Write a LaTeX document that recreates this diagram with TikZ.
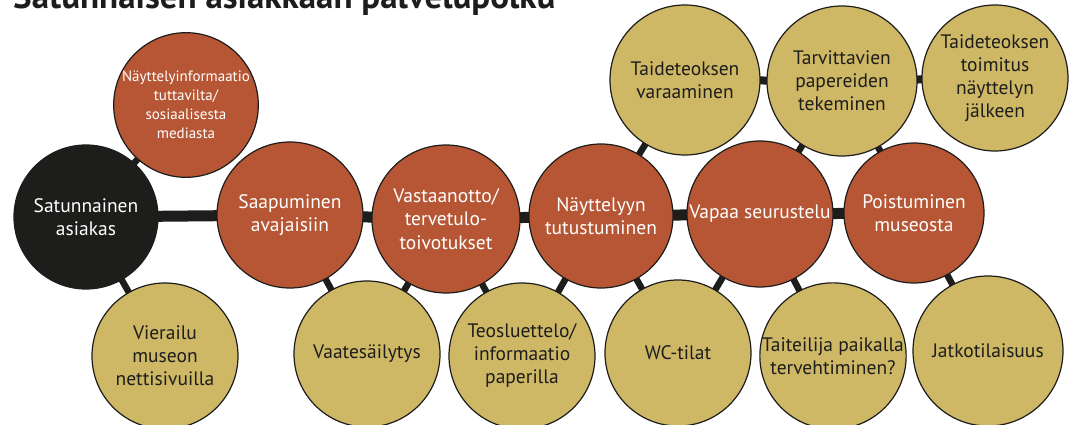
\documentclass[tikz,border=0pt]{standalone}
\usepackage{fontspec}
\setmainfont{PT Sans}
\usetikzlibrary{backgrounds}
\definecolor{rust}{HTML}{B65634}
\definecolor{sand}{HTML}{CEB866}
\definecolor{ink}{HTML}{1D1D1B}
\begin{document}
\begin{tikzpicture}[x=1pt,y=-1pt,
  bubble/.style={circle, draw=ink, line width=1.2pt, inner sep=0pt, align=center},
  start/.style={bubble, fill=ink, text=white, font=\fontsize{19.5}{23.5}\selectfont},
  stage/.style={bubble, fill=rust, text=white, font=\fontsize{19.5}{23.5}\selectfont},
  extra/.style={bubble, fill=sand, text=ink, font=\fontsize{19.5}{23}\selectfont},
  spine/.style={draw=ink, line width=11pt},
  branch/.style={draw=ink, line width=8pt},
  link/.style={draw=ink, line width=6.5pt}]
\useasboundingbox (0,0) rectangle (1072,425);

% title (partly above the page edge)
\node[anchor=base west, inner sep=0pt, text=ink,
      font=\fontsize{35}{41}\selectfont\bfseries] (title) at (13,9)
  {Satunnaisen asiakkaan palvelupolku};

% customer and main stages
\node[start, minimum size=144pt] (cust) at (86,217) {Satunnainen\\asiakas};
\node[stage, minimum size=136pt, font=\fontsize{15}{19}\selectfont] (info) at (186,105)
  {Näyttelyinformaatio\\tuttavilta/\\sosiaalisesta\\mediasta};
\node[stage, minimum size=146pt] (saap) at (290,215) {Saapuminen\\avajaisiin};
\node[stage, minimum size=148pt] (vast) at (446,219) {Vastaanotto/\\tervetulo-\\toivotukset};
\node[stage, minimum size=144pt] (nayt) at (601,216) {Näyttelyyn\\tutustuminen};
\node[stage, minimum size=146pt] (vapa) at (760,214) {Vapaa seurustelu};
\node[stage, minimum size=140pt] (pois) at (914,213) {Poistuminen\\museosta};

% side services above
\node[extra, minimum size=150pt] (varaus) at (685,80) {Taideteoksen\\varaaminen};
\node[extra, minimum size=150pt] (paperit) at (842,81) {Tarvittavien\\papereiden\\tekeminen};
\node[extra, minimum size=146pt] (toimitus) at (995,78) {Taideteoksen\\toimitus\\näyttelyn\\jälkeen};

% side services below
\node[extra, minimum size=146pt] (netti) at (165,356) {Vierailu\\museon\\nettisivuilla};
\node[extra, minimum size=146pt] (vaate) at (367,354) {Vaatesäilytys};
\node[extra, minimum size=146pt] (teos) at (522,356) {Teosluettelo/\\informaatio\\paperilla};
\node[extra, minimum size=146pt] (wc) at (678,353) {WC-tilat};
\node[extra, minimum size=144pt] (taiteilija) at (833,356) {Taiteilija paikalla\\tervehtiminen?};
\node[extra, minimum size=150pt] (jatko) at (988,351) {Jatkotilaisuus};

\begin{pgfonlayer}{background}
  \fill[white] (0,0) rectangle (1072,425);
  % main path
  \draw[spine] (cust.center) -- (saap.center);
  \draw[spine] (saap.center) -- (vast.center);
  \draw[spine] (vast.center) -- (nayt.center);
  \draw[spine] (nayt.center) -- (vapa.center);
  \draw[spine] (vapa.center) -- (pois.center);
  % upper chain
  \draw[branch] (varaus.center) -- (paperit.center);
  \draw[branch] (paperit.center) -- (toimitus.center);
  % side links
  \draw[link] (cust.center) -- (info.center);
  \draw[link] (cust.center) -- (netti.center);
  \draw[link] (saap.center) -- (vaate.center);
  \draw[link] (vast.center) -- (vaate.center);
  \draw[link] (vast.center) -- (teos.center);
  \draw[link] (nayt.center) -- (teos.center);
  \draw[link] (nayt.center) -- (wc.center);
  \draw[link] (nayt.center) -- (varaus.center);
  \draw[link] (vapa.center) -- (wc.center);
  \draw[link] (vapa.center) -- (taiteilija.center);
  \draw[link] (vapa.center) -- (paperit.center);
  \draw[link] (pois.center) -- (paperit.center);
  \draw[link] (pois.center) -- (jatko.center);
\end{pgfonlayer}
\end{tikzpicture}
\end{document}
